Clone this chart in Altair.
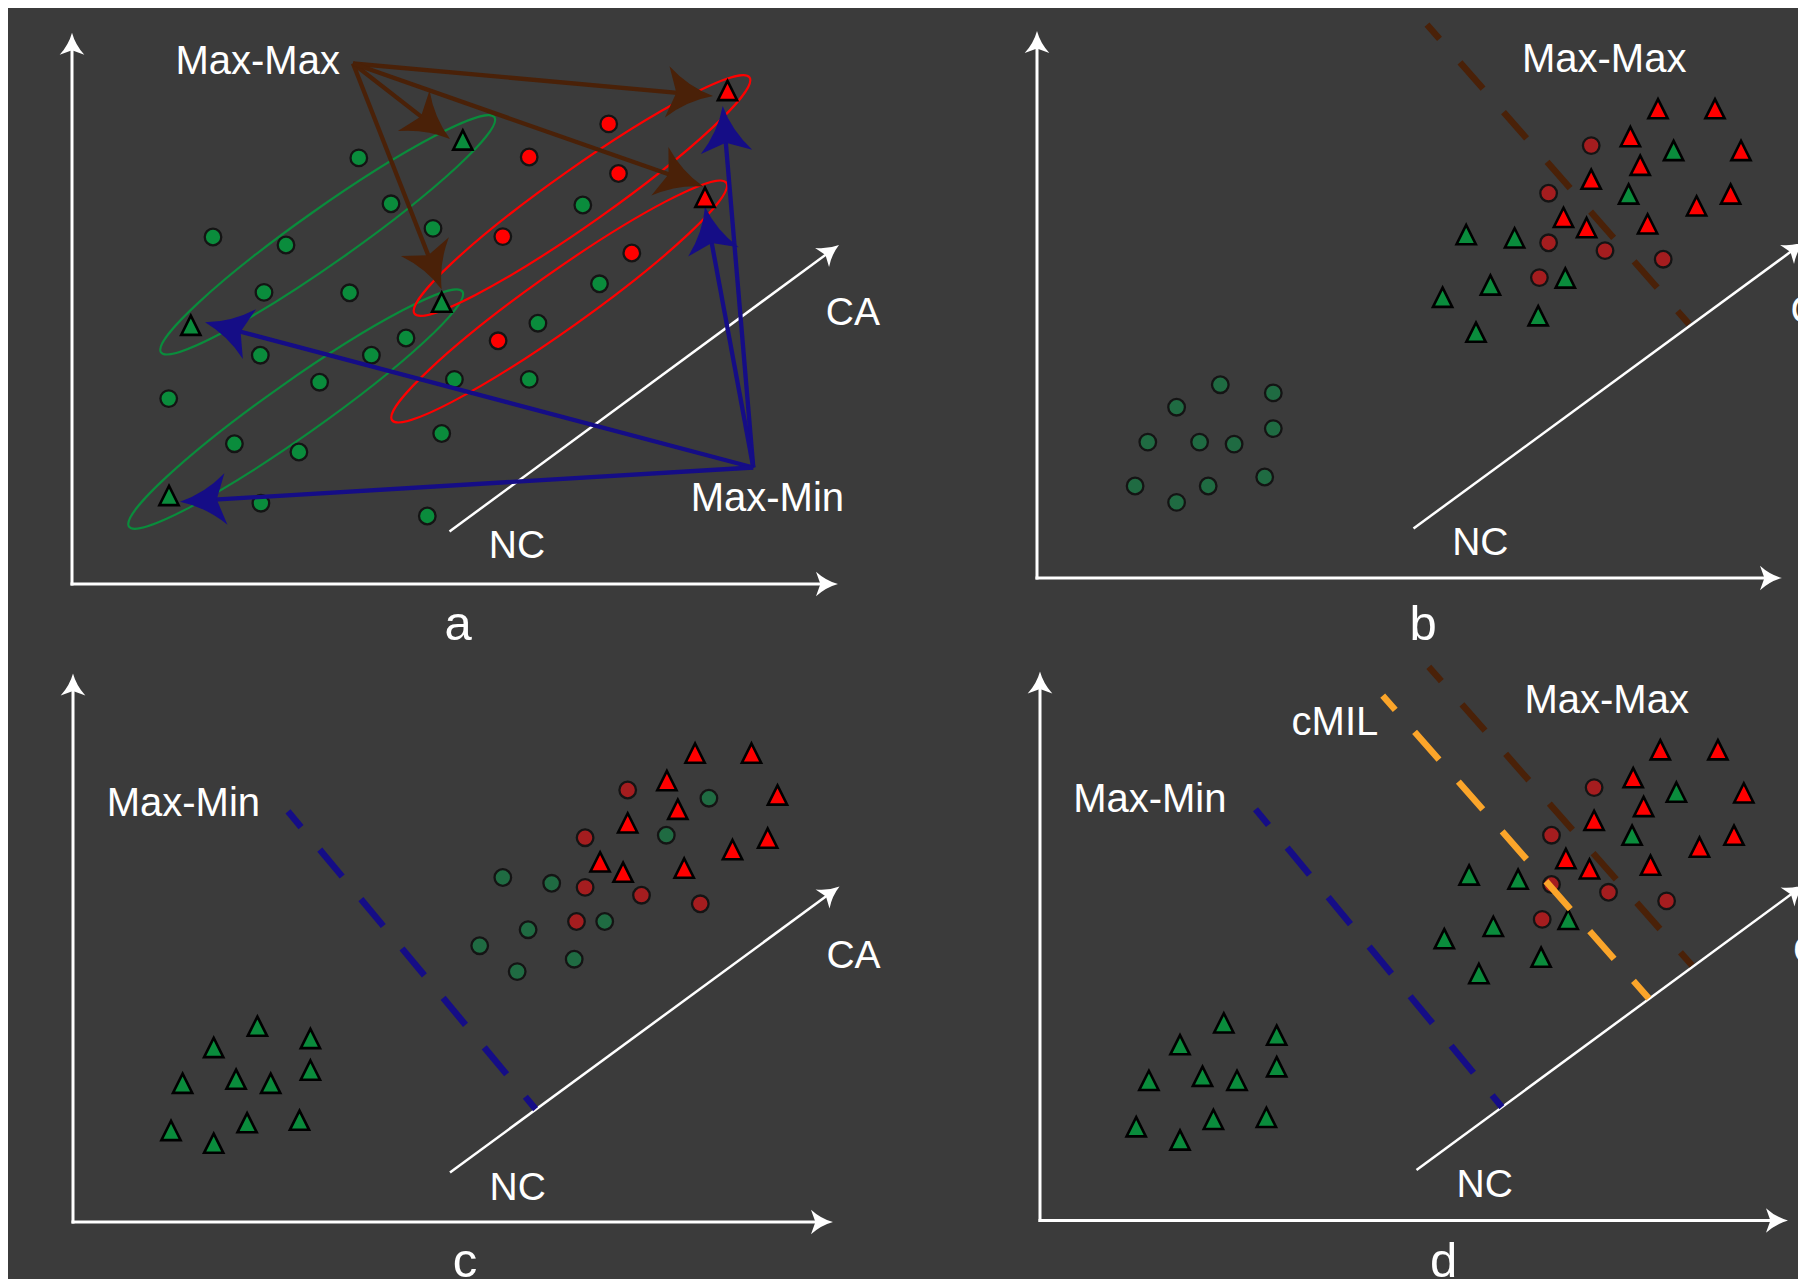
import math
import altair as alt
import pandas as pd

# ---------------- palette ----------------
BG = "#3b3b3b"
WHITE = "#ffffff"
GREEN = "#0a8c3c"
DARK_GREEN = "#1f6b42"
RED = "#ff0000"
DARK_RED = "#a51d1f"
BROWN = "#4a2108"
NAVY = "#150d86"
ORANGE = "#fba52a"

# ---------------- panel a ----------------
A_GREEN_CIRCLES = [(358.8, 157.9), (391.0, 203.8), (433.0, 228.4), (213.0, 237.0), (286.0, 245.0),
                   (264.0, 292.4), (349.6, 292.8), (582.8, 205.0), (599.5, 283.8), (537.9, 323.2),
                   (406.0, 338.0), (260.3, 355.2), (371.4, 355.2), (319.6, 382.2), (454.4, 379.4),
                   (529.2, 379.4), (168.7, 398.6), (441.7, 433.5), (234.4, 443.7), (298.9, 452.0),
                   (260.9, 503.2), (427.3, 516.0)]
A_RED_CIRCLES = [(608.7, 123.9), (529.2, 157.0), (618.5, 173.5), (502.8, 236.6), (631.8, 253.0),
                 (498.1, 340.8)]
A_GREEN_TRIANGLES = [(462.8, 140.0), (441.7, 302.2), (190.8, 325.3), (169.0, 495.5)]
A_RED_TRIANGLES = [(727.5, 90.5), (705.0, 197.3)]
# centre x, centre y, half length, half width, tilt (deg), colour
A_ELLIPSES = [(327.7, 234.8, 204, 27, 35.2, GREEN),
              (295.7, 409.1, 204, 27, 35.2, GREEN),
              (582.0, 195.5, 205, 28, 35.2, RED),
              (559.2, 301.5, 205, 28, 35.4, RED)]
MAXMAX_FROM = (353.0, 63.5)
MAXMAX_TO = [(713.0, 96.0), (450.0, 139.0), (441.7, 289.5), (703.3, 186.5)]
MAXMIN_FROM = (753.3, 467.5)
MAXMIN_TO = [(722.7, 106.0), (705.0, 206.7), (205.0, 322.3), (180.0, 501.7)]

# ---------------- panel b ----------------
B_DARK_GREEN_CIRCLES = [(1220.3, 384.7), (1273.3, 392.9), (1176.6, 407.2), (1273.3, 428.6),
                        (1147.8, 442.1), (1199.6, 442.1), (1234.1, 444.1), (1135.1, 486.0),
                        (1208.2, 486.0), (1264.7, 477.0), (1176.6, 502.4)]
B_DARK_RED_CIRCLES = [(1591.2, 145.6), (1548.6, 193.2), (1548.6, 242.8), (1605.0, 250.6),
                      (1663.2, 259.2), (1539.4, 277.6)]
B_RED_TRIANGLES = [(1658.0, 108.7), (1715.0, 108.7), (1630.4, 136.6), (1741.0, 150.5),
                   (1640.2, 165.3), (1591.2, 179.2), (1730.6, 194.0), (1696.6, 205.9),
                   (1563.5, 217.4), (1586.6, 227.6), (1647.6, 223.9)]
B_GREEN_TRIANGLES = [(1673.6, 150.5), (1628.6, 194.0), (1466.2, 234.6), (1514.6, 237.9),
                     (1565.3, 278.0), (1490.4, 285.0), (1442.6, 297.3), (1538.2, 315.8),
                     (1476.0, 332.2)]

# ---------------- panel c ----------------
C_GREEN_TRIANGLES = [(257.4, 1026.2), (310.4, 1038.5), (213.7, 1047.5), (310.4, 1070.1),
                     (182.6, 1083.3), (236.1, 1079.2), (270.7, 1083.3), (171.0, 1130.5),
                     (247.1, 1122.7), (299.5, 1120.2), (213.7, 1143.2)]
C_RED_TRIANGLES = [(695.1, 753.1), (751.5, 753.1), (666.9, 780.6), (777.5, 795.0), (677.8, 809.3),
                   (627.7, 822.9), (767.7, 838.1), (732.5, 849.6), (600.1, 861.9), (623.1, 872.2),
                   (684.2, 868.1)]
C_DARK_RED_CIRCLES = [(627.7, 790.0), (585.1, 837.7), (585.1, 887.4), (641.5, 895.2),
                      (700.3, 903.8), (576.5, 921.5)]
C_DARK_GREEN_CIRCLES = [(708.9, 798.2), (666.3, 835.2), (502.8, 877.5), (551.7, 883.3),
                        (604.7, 921.5), (528.1, 929.7), (479.7, 945.7), (574.2, 959.2),
                        (517.2, 971.6)]

# ---------------- panel d ----------------
D_RED_TRIANGLES = [(1660.3, 749.8), (1717.9, 749.8), (1633.2, 777.7), (1743.8, 792.9),
                   (1643.6, 806.5), (1594.1, 820.4), (1734.0, 835.2), (1699.5, 847.1),
                   (1565.9, 858.6), (1589.5, 868.9), (1650.5, 865.2)]
D_GREEN_TRIANGLES_TOP = [(1676.4, 792.1), (1632.1, 835.2), (1469.1, 875.0), (1518.1, 879.2),
                         (1568.2, 919.4), (1493.3, 926.4), (1444.3, 938.7), (1541.1, 957.2),
                         (1478.9, 973.6)]
D_DARK_RED_CIRCLES = [(1594.1, 787.6), (1551.5, 835.2), (1551.5, 884.5), (1608.5, 892.3),
                      (1666.6, 900.9), (1542.2, 919.4)]
D_GREEN_TRIANGLES_LOW = [(1223.8, 1022.9), (1276.7, 1035.2), (1180.0, 1044.7), (1276.7, 1066.8),
                         (1148.9, 1080.4), (1202.5, 1076.3), (1237.0, 1080.4), (1136.2, 1126.8),
                         (1213.4, 1119.4), (1266.4, 1117.4), (1180.0, 1140.0)]

# ---------------- axes / guide arrows ----------------
# start x, start y, tip x, tip y
AXES = [(72, 585.5, 72, 32.7), (70.5, 584, 838, 584),
        (1037, 579.5, 1037, 31), (1035.5, 578, 1782, 578),
        (73, 1223.5, 73, 673.5), (71.5, 1222, 833, 1222),
        (1040, 1222, 1040, 671.5), (1038.5, 1220.5, 1788, 1220.5)]
NC_CA = [(449.5, 531.5, 839.0, 245.0), (1413.5, 528.5, 1804.0, 242.0),
         (450.0, 1172.5, 839.5, 886.5), (1416.5, 1170.0, 1804.5, 884.5)]

# dashed decision lines: x, y, x2, y2
DASH_BROWN = [(1427.0, 24.6, 1689.0, 324.0), (1428.8, 666.8, 1692.0, 965.4)]
DASH_NAVY = [(288.0, 811.4, 535.6, 1109.1), (1255.5, 809.3, 1501.9, 1107.1)]
DASH_ORANGE = [(1382.7, 695.6, 1648.8, 998.3)]

# ---------------- text ----------------
TEXT_LABELS = ["Max-Max", "Max-Min", "NC", "CA", "a",
               "Max-Max", "NC", "CA", "b",
               "Max-Min", "NC", "CA", "c",
               "Max-Min", "cMIL", "Max-Max", "NC", "CA", "d"]
TEXT_X = [257.7, 767.4, 516.9, 852.9, 458.0,
          1604.2, 1480.3, 1817.5, 1423.0,
          183.4, 517.7, 853.5, 465.0,
          1149.8, 1334.9, 1606.7, 1484.7, 1820.0, 1443.5]
TEXT_Y = [73.5, 511.0, 558.0, 325.0, 639.7,
          72.3, 554.8, 322.5, 640.0,
          816.0, 1199.8, 967.8, 1277.0,
          811.8, 734.5, 713.2, 1197.0, 963.0, 1277.0]
TEXT_SIZE = [40, 40, 39, 39, 49,
             40, 39, 39, 49,
             40, 39, 39, 49,
             40, 40, 40, 39, 39, 49]

# ---------------- helpers ----------------
XS = alt.Scale(domain=[8, 1798], nice=False, zero=False)
YS = alt.Scale(domain=[8, 1279], nice=False, zero=False, reverse=True)


def ex(f="x"):
    return alt.X(f"{f}:Q", scale=XS, axis=None)


def ey(f="y"):
    return alt.Y(f"{f}:Q", scale=YS, axis=None)


HEAD = "M0,0 Q0.15,0.55 0.56,1 L0,0.8 L-0.56,1 Q-0.15,0.55 0,0 Z"
TRI = "M0,-0.95 L0.95,0.95 L-0.95,0.95 Z"


def heading(x0, y0, x1, y1):
    return math.degrees(math.atan2(x1 - x0, -(y1 - y0))) % 360


line_rows_white, head_rows_white = [], []
line_rows_col, head_rows_col = [], []


def add_arrow(x0, y0, x1, y1, head_len, color, width, lines, heads):
    L = math.hypot(x1 - x0, y1 - y0)
    ux, uy = (x1 - x0) / L, (y1 - y0) / L
    lines.append(dict(x=x0, y=y0, x2=x1 - ux * head_len * 0.65, y2=y1 - uy * head_len * 0.65,
                      c=color, w=width))
    heads.append(dict(x=x1, y=y1, a=heading(x0, y0, x1, y1), s=(2 * head_len) ** 2, c=color))


for (x0, y0, x1, y1) in AXES:
    add_arrow(x0, y0, x1, y1, 22, WHITE, 3.0, line_rows_white, head_rows_white)
for (x0, y0, x1, y1) in NC_CA:
    add_arrow(x0, y0, x1, y1, 21, WHITE, 2.5, line_rows_white, head_rows_white)
for (x1, y1) in MAXMAX_TO:
    add_arrow(MAXMAX_FROM[0], MAXMAX_FROM[1], x1, y1, 46, BROWN, 4.3, line_rows_col, head_rows_col)
for (x1, y1) in MAXMIN_TO:
    add_arrow(MAXMIN_FROM[0], MAXMIN_FROM[1], x1, y1, 46, NAVY, 4.3, line_rows_col, head_rows_col)


def pts(lst, color):
    return [dict(x=p[0], y=p[1], c=color) for p in lst]


circles = pd.DataFrame(
    pts(A_GREEN_CIRCLES, GREEN) + pts(A_RED_CIRCLES, RED)
    + pts(B_DARK_GREEN_CIRCLES, DARK_GREEN) + pts(B_DARK_RED_CIRCLES, DARK_RED)
    + pts(C_DARK_RED_CIRCLES, DARK_RED) + pts(C_DARK_GREEN_CIRCLES, DARK_GREEN)
    + pts(D_DARK_RED_CIRCLES, DARK_RED))
triangles = pd.DataFrame(
    pts(A_GREEN_TRIANGLES, GREEN) + pts(A_RED_TRIANGLES, RED)
    + pts(B_RED_TRIANGLES, RED) + pts(B_GREEN_TRIANGLES, GREEN)
    + pts(C_GREEN_TRIANGLES, GREEN) + pts(C_RED_TRIANGLES, RED)
    + pts(D_RED_TRIANGLES, RED) + pts(D_GREEN_TRIANGLES_TOP, GREEN)
    + pts(D_GREEN_TRIANGLES_LOW, GREEN))

ell_rows = []
for (cx, cy, a, b, tilt, col) in A_ELLIPSES:
    r = b / a
    ell_rows.append(dict(x=cx, y=cy, s=(2 * a) ** 2, a=(360 - tilt) % 360, c=col,
                         sh=f"M-1,0 A1,{r:.4f} 0 1,1 1,0 A1,{r:.4f} 0 1,1 -1,0 Z"))
ellipses = pd.DataFrame(ell_rows)


def seg_df(lst, color):
    return pd.DataFrame([dict(x=s[0], y=s[1], x2=s[2], y2=s[3], c=color) for s in lst])


texts = pd.DataFrame(dict(t=TEXT_LABELS, x=TEXT_X, y=TEXT_Y, fs=TEXT_SIZE))

# ---------------- layers ----------------
rule_enc = dict(x=ex(), y=ey(), x2="x2:Q", y2="y2:Q",
                color=alt.Color("c:N", scale=None),
                strokeWidth=alt.StrokeWidth("w:Q", scale=None))
head_enc = dict(x=ex(), y=ey(), angle=alt.Angle("a:Q", scale=None),
                size=alt.Size("s:Q", scale=None), fill=alt.Fill("c:N", scale=None))

ellipse_layer = alt.Chart(ellipses).mark_point(filled=False, opacity=1, strokeWidth=2.2).encode(
    x=ex(), y=ey(), shape=alt.Shape("sh:N", scale=None), size=alt.Size("s:Q", scale=None),
    angle=alt.Angle("a:Q", scale=None), color=alt.Color("c:N", scale=None))

white_lines = alt.Chart(pd.DataFrame(line_rows_white)).mark_rule().encode(**rule_enc)
white_heads = alt.Chart(pd.DataFrame(head_rows_white)).mark_point(
    shape=HEAD, filled=True, opacity=1, strokeWidth=0).encode(**head_enc)

circle_layer = alt.Chart(circles).mark_point(
    shape="circle", filled=True, opacity=1, size=275, stroke="#141414", strokeWidth=2.3
).encode(x=ex(), y=ey(), fill=alt.Fill("c:N", scale=None))

col_lines = alt.Chart(pd.DataFrame(line_rows_col)).mark_rule().encode(**rule_enc)
col_heads = alt.Chart(pd.DataFrame(head_rows_col)).mark_point(
    shape=HEAD, filled=True, opacity=1, strokeWidth=0).encode(**head_enc)

tri_layer = alt.Chart(triangles).mark_point(
    shape=TRI, filled=True, opacity=1, size=410, stroke="#000000", strokeWidth=2.6
).encode(x=ex(), y=ey(), fill=alt.Fill("c:N", scale=None))

dash_enc = dict(x=ex(), y=ey(), x2="x2:Q", y2="y2:Q", color=alt.Color("c:N", scale=None))
dash_brown = alt.Chart(seg_df(DASH_BROWN, BROWN)).mark_rule(
    strokeWidth=6.5, strokeDash=[35, 31.1], strokeDashOffset=16).encode(**dash_enc)
dash_navy = alt.Chart(seg_df(DASH_NAVY, NAVY)).mark_rule(
    strokeWidth=6.5, strokeDash=[35, 29.3], strokeDashOffset=14.6).encode(**dash_enc)
dash_orange = alt.Chart(seg_df(DASH_ORANGE, ORANGE)).mark_rule(
    strokeWidth=6.5, strokeDash=[37, 29.3], strokeDashOffset=18).encode(**dash_enc)

text_layer = alt.Chart(texts).mark_text(
    font="Liberation Sans", color=WHITE, align="center", baseline="alphabetic"
).encode(x=ex(), y=ey(), text="t:N", size=alt.Size("fs:Q", scale=None))

chart = alt.layer(
    ellipse_layer, white_lines, white_heads, circle_layer, col_lines, col_heads,
    tri_layer, dash_brown, dash_navy, dash_orange, text_layer
).properties(
    width=1790, height=1271, background=BG, padding=0,
    autosize=alt.AutoSizeParams(type="none")
).configure_view(stroke=None)

chart.save("out.html", embed_options={"renderer": "svg", "actions": False})
